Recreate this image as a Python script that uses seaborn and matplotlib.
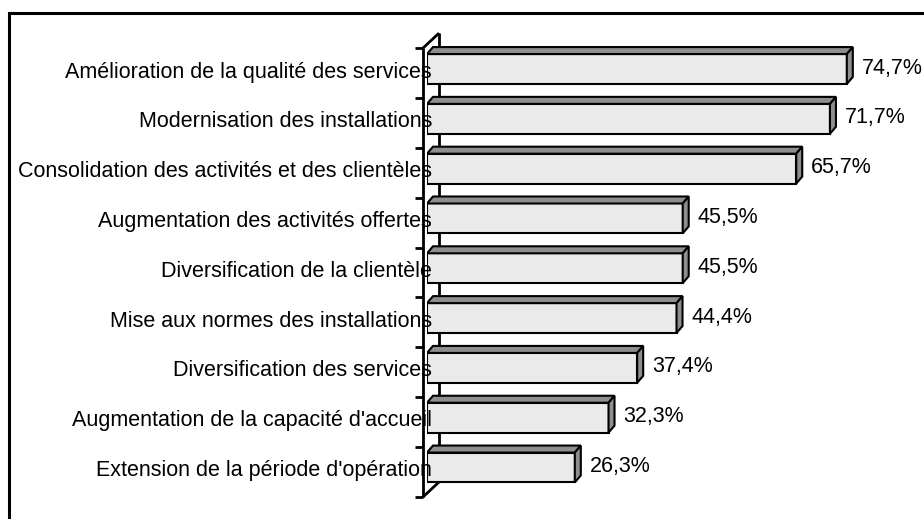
import numpy as np
import pandas as pd
import seaborn as sns
import matplotlib.pyplot as plt
from matplotlib.patches import Polygon, Rectangle
from matplotlib.lines import Line2D
from matplotlib.transforms import ScaledTranslation

sns.set_style('white')
plt.rcParams['font.family'] = ['Liberation Sans', 'DejaVu Sans']

categories = [
    "Amélioration de la qualité des services",
    "Modernisation des installations",
    "Consolidation des activités et des clientèles",
    "Augmentation des activités offertes",
    "Diversification de la clientèle",
    "Mise aux normes des installations",
    "Diversification des services",
    "Augmentation de la capacité d'accueil",
    "Extension de la période d'opération",
]
values = [74.7, 71.7, 65.7, 45.5, 45.5, 44.4, 37.4, 32.3, 26.3]

df = pd.DataFrame({'cat': categories, 'val': values})

W, H = 924, 519
fig = plt.figure(figsize=(W / 100, H / 100), dpi=100)
# axes placed so that 0..80 % spans the plot floor
ax_l, ax_w = 427, 449.6
ax_top, ax_h = 44.1, 448.3
ax = fig.add_axes([ax_l / W, (H - ax_top - ax_h) / H, ax_w / W, ax_h / H])

sns.barplot(data=df, x='val', y='cat', orient='h', width=0.6, color='#EAEAEA',
            saturation=1, edgecolor='black', linewidth=1.5, ax=ax, zorder=3)
ax.set_xlim(0, 80)
ax.set_ylim(len(categories) - 0.5, -0.5)
ax.set_xticks([])
ax.set_yticks([])
ax.set_xlabel('')
ax.set_ylabel('')
sns.despine(ax=ax, top=True, right=True, bottom=True, left=True)

# pixel -> data units
px = 80 / ax_w
py = len(categories) / ax_h

# 3d depth of each bar (top face + side face)
bd_x, bd_y = 6 * px, 7 * py
for p in list(ax.patches):
    x0, x1 = p.get_x(), p.get_x() + p.get_width()
    yt, yb = p.get_y(), p.get_y() + p.get_height()
    top = Polygon([(x0, yt), (x1, yt), (x1 + bd_x, yt - bd_y), (x0 + bd_x, yt - bd_y)],
                  closed=True, facecolor='#8E8E8E', edgecolor='black', lw=1.5, zorder=3)
    side = Polygon([(x1, yt), (x1, yb), (x1 + bd_x, yb - bd_y), (x1 + bd_x, yt - bd_y)],
                   closed=True, facecolor='#8E8E8E', edgecolor='black', lw=1.5, zorder=3)
    ax.add_patch(top)
    ax.add_patch(side)

# wall (category axis) in 3d
n = len(categories)
fx, fy0, fy1 = -4 * px, -0.5 + 4 * py, n - 0.5 + 4.6 * py
dx, dy = 16 * px, 15 * py
lk = dict(color='black', lw=2, clip_on=False, solid_capstyle='butt')
ax.add_line(Line2D([fx, fx], [fy0, fy1], zorder=4, **lk))
ax.add_line(Line2D([fx + dx, fx + dx], [fy0 - dy, fy1 - dy], zorder=1, **lk))
ax.add_line(Line2D([fx, fx + dx], [fy0, fy0 - dy], zorder=4, **lk))
ax.add_line(Line2D([fx, fx + dx], [fy1, fy1 - dy], zorder=4, **lk))
for k in range(n + 1):
    yk = fy0 + k * (fy1 - fy0) / n
    ax.add_line(Line2D([fx - 8 * px, fx], [yk, yk], zorder=4, **lk))

# category labels
lab_tr = ax.transData + ScaledTranslation(5 / 100, -3 / 100, fig.dpi_scale_trans)
for i, c in enumerate(categories):
    ax.text(0, i, c, transform=lab_tr, ha='right', va='center', fontsize=15.5,
            color='black', zorder=6, clip_on=False)

# value labels
val_tr = ax.transData + ScaledTranslation(9 / 100, 1 / 100, fig.dpi_scale_trans)
for i, v in enumerate(values):
    txt = ('%.1f' % v).replace('.', ',') + '%'
    ax.text(v + bd_x, i, txt, transform=val_tr, ha='left', va='center', fontsize=15.5,
            color='black', zorder=6, clip_on=False)

# outer chart frame
fig.patches.append(Rectangle((8.7 / W, -0.05), 1.1, (H - 13) / H + 0.05,
                             transform=fig.transFigure, fill=False,
                             edgecolor='black', lw=2.2, clip_on=False))

fig.savefig('out.png', dpi=100)
